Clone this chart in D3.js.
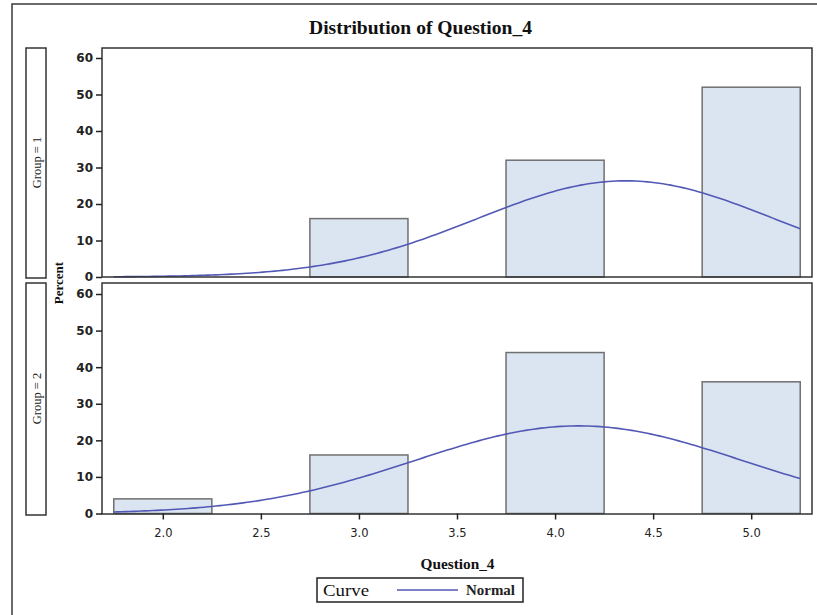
<!DOCTYPE html>
<html>
<head>
<meta charset="utf-8">
<script src="https://cdn.jsdelivr.net/npm/d3@7"></script>
<style>
  body { margin: 0; background: #fff; }
  svg { display: block; }
</style>
</head>
<body>
<svg id="chart" width="817" height="615"></svg>
<script>
// ---- data ----
const groups = ["Group = 1", "Group = 2"];
const binCenters = [2.0, 3.0, 4.0, 5.0];
const group1Percent = [0, 16, 32, 52];
const group2Percent = [4, 16, 44, 36];
const normalMean = [4.36, 4.12];
const normalStd = [0.757, 0.833];
const xTicks = [2.0, 2.5, 3.0, 3.5, 4.0, 4.5, 5.0];
const yTicks = [0, 10, 20, 30, 40, 50, 60];
const binWidth = 0.5;

const svg = d3.select("#chart");
const serif = "'Liberation Serif', 'DejaVu Serif', serif";
const sans = "'DejaVu Sans', Verdana, sans-serif";

// outer frame
svg.append("rect").attr("x", 12).attr("y", 4).attr("width", 830).attr("height", 640)
  .attr("fill", "none").attr("stroke", "#3a3a3a").attr("stroke-width", 1.5);

// title
svg.append("text").attr("x", 420.5).attr("y", 34).attr("text-anchor", "middle")
  .attr("font-family", serif).attr("font-weight", "bold").attr("font-size", 18.5)
  .attr("textLength", 223).attr("lengthAdjust", "spacingAndGlyphs")
  .attr("fill", "#111").text("Distribution of Question_4");

const x = d3.scaleLinear().domain([1.69, 5.31]).range([102, 812]);

const panels = [
  { top: 48, bottom: 277, y0: 277, y60: 58, values: group1Percent },
  { top: 283, bottom: 514, y0: 513.5, y60: 294, values: group2Percent }
];

panels.forEach((p, i) => {
  const y = d3.scaleLinear().domain([0, 60]).range([p.y0, p.y60]);
  const g = svg.append("g");

  // bars
  g.selectAll("rect.bar").data(binCenters.map((c, j) => ({ c, v: p.values[j] })).filter(d => d.v > 0))
    .enter().append("rect").attr("class", "bar")
    .attr("x", d => x(d.c - binWidth / 2))
    .attr("width", d => x(d.c + binWidth / 2) - x(d.c - binWidth / 2))
    .attr("y", d => y(d.v))
    .attr("height", d => y(0) - y(d.v))
    .attr("fill", "#dae5f1").attr("stroke", "#707070").attr("stroke-width", 1.5);

  // normal curve
  const mu = normalMean[i], sd = normalStd[i];
  const pts = d3.range(1.75, 5.2501, 0.02).map(v => {
    const dens = Math.exp(-0.5 * ((v - mu) / sd) ** 2) / (sd * Math.sqrt(2 * Math.PI));
    return [x(v), y(dens * binWidth * 100)];
  });
  g.append("path").attr("d", d3.line()(pts)).attr("fill", "none")
    .attr("stroke", "#5258b5").attr("stroke-width", 1.6);

  // panel border
  g.append("rect").attr("x", 102).attr("y", p.top).attr("width", 710).attr("height", p.bottom - p.top)
    .attr("fill", "none").attr("stroke", "#333").attr("stroke-width", 1.5);

  // y axis
  const ya = g.append("g").attr("transform", "translate(102,0)")
    .call(d3.axisLeft(y).tickValues(yTicks).tickSize(6).tickPadding(3).tickFormat(d3.format("d")));
  ya.select(".domain").remove();
  ya.selectAll("line").attr("stroke", "#222").attr("stroke-width", 1.5);
  ya.selectAll("text").attr("font-family", sans).attr("font-size", 12).attr("fill", "#222")
    .attr("font-weight", "bold");

  // strip label box
  svg.append("rect").attr("x", 26).attr("y", p.top).attr("width", 20).attr("height", p.bottom - p.top + 1)
    .attr("fill", "none").attr("stroke", "#333").attr("stroke-width", 1.5);
  svg.append("text").attr("transform", `translate(40.5,${(p.top + p.bottom) / 2}) rotate(-90)`)
    .attr("text-anchor", "middle").attr("font-family", serif).attr("font-size", 12.5)
    .attr("fill", "#222").text(groups[i]);

  if (i === 1) {
    const xa = svg.append("g").attr("transform", `translate(0,${p.y0})`)
      .call(d3.axisBottom(x).tickValues(xTicks).tickSize(6).tickPadding(9).tickFormat(d3.format(".1f")));
    xa.select(".domain").remove();
    xa.selectAll("line").attr("stroke", "#222").attr("stroke-width", 1.5);
    xa.selectAll("text").attr("font-family", sans).attr("font-size", 11.5).attr("fill", "#222");
  }
});

// y label
svg.append("text").attr("transform", "translate(63,283) rotate(-90)").attr("text-anchor", "middle")
  .attr("font-family", serif).attr("font-weight", "bold").attr("font-size", 13).attr("fill", "#111")
  .text("Percent");

// x label
svg.append("text").attr("x", 457.5).attr("y", 569).attr("text-anchor", "middle")
  .attr("font-family", serif).attr("font-weight", "bold").attr("font-size", 14)
  .attr("textLength", 74).attr("lengthAdjust", "spacingAndGlyphs").attr("fill", "#111")
  .text("Question_4");

// legend
svg.append("rect").attr("x", 317).attr("y", 578).attr("width", 206).attr("height", 24)
  .attr("fill", "none").attr("stroke", "#222").attr("stroke-width", 1.5);
svg.append("text").attr("x", 323).attr("y", 595.5).attr("font-family", serif).attr("font-size", 17)
  .attr("textLength", 46).attr("lengthAdjust", "spacingAndGlyphs")
  .attr("fill", "#111").text("Curve");
svg.append("line").attr("x1", 397).attr("x2", 458).attr("y1", 590).attr("y2", 590)
  .attr("stroke", "#5258b5").attr("stroke-width", 1.6);
svg.append("text").attr("x", 466).attr("y", 595).attr("font-family", serif).attr("font-size", 14)
  .attr("textLength", 49).attr("lengthAdjust", "spacingAndGlyphs")
  .attr("font-weight", "bold").attr("fill", "#222").text("Normal");
</script>
</body>
</html>
